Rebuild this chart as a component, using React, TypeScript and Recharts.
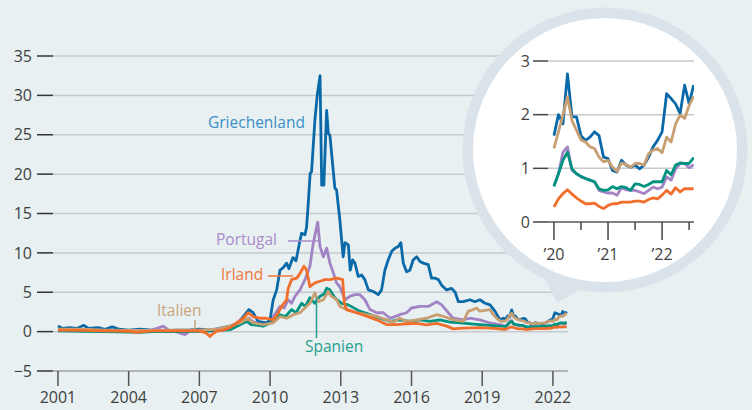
import React from 'react'
import { LineChart, Line, XAxis, YAxis, CartesianGrid } from 'recharts'

const FONT = '"Open Sans", "Noto Sans", sans-serif'
const BG = '#e8f0f2'
const RING = '#dbe3ea'
const GRID = '#c6cacd'

const COLORS = { gr: '#0a69a8', pt: '#a283c4', ie: '#f26e2c', it: '#c89f72', es: '#00937f' }
const LABELS = { gr: '#3b8fc7', pt: '#a98ccb', ie: '#f2783a', it: '#caa57c', es: '#26a08e' }

// monthly values Jan 2020 – Aug 2022 (inset)
const greece20 = [1.61, 2.0, 1.83, 2.76, 1.96, 1.96, 1.61, 1.52, 1.58, 1.68, 1.61, 1.21, 1.18, 0.96, 0.93, 1.15, 1.06, 1.02, 1.06, 0.99, 1.06, 1.21, 1.4, 1.52, 1.68, 2.39, 2.3, 2.2, 2.02, 2.55, 2.2, 2.55]
const italy20 = [1.37, 1.68, 1.99, 2.33, 1.89, 1.71, 1.53, 1.49, 1.4, 1.37, 1.21, 1.12, 1.15, 1.02, 0.94, 1.1, 1.07, 1.02, 1.09, 1.09, 1.06, 1.27, 1.34, 1.37, 1.29, 1.58, 1.49, 1.83, 1.99, 1.93, 2.17, 2.34]
const portugal20 = [0.68, 0.9, 1.3, 1.4, 0.96, 0.9, 0.84, 0.81, 0.78, 0.75, 0.59, 0.56, 0.54, 0.54, 0.5, 0.64, 0.6, 0.59, 0.59, 0.56, 0.53, 0.59, 0.65, 0.62, 0.65, 0.84, 0.78, 0.99, 1.09, 1.09, 1.01, 1.07]
const spain20 = [0.66, 0.9, 1.15, 1.3, 0.99, 0.9, 0.85, 0.81, 0.78, 0.75, 0.62, 0.59, 0.6, 0.66, 0.62, 0.66, 0.64, 0.59, 0.71, 0.7, 0.66, 0.7, 0.75, 0.75, 0.75, 0.96, 0.88, 1.06, 1.1, 1.09, 1.09, 1.2]
const ireland20 = [0.28, 0.43, 0.53, 0.6, 0.52, 0.45, 0.39, 0.34, 0.34, 0.35, 0.29, 0.25, 0.31, 0.34, 0.34, 0.37, 0.37, 0.37, 0.39, 0.39, 0.37, 0.42, 0.45, 0.43, 0.5, 0.59, 0.52, 0.64, 0.56, 0.62, 0.62, 0.62]

// [year, value] 2001 – 2019
const greeceHist = [
  [2001.0, 0.7], [2001.2, 0.4], [2001.5, 0.5], [2001.8, 0.4], [2002.1, 0.8], [2002.3, 0.4], [2002.7, 0.5],
  [2003.0, 0.3], [2003.3, 0.6], [2003.6, 0.3], [2004.0, 0.2], [2004.5, 0.3], [2005.0, 0.2], [2005.5, 0.1],
  [2006.0, 0.2], [2006.5, 0.2], [2007.0, 0.3], [2007.5, 0.2], [2008.0, 0.5], [2008.3, 0.7], [2008.6, 1.0],
  [2008.86, 1.9], [2009.1, 2.8], [2009.28, 2.4], [2009.49, 1.3], [2009.85, 1.1], [2010.0, 1.5], [2010.13, 4.0],
  [2010.28, 5.3], [2010.42, 7.8], [2010.55, 8.1], [2010.7, 8.7], [2010.8, 8.0], [2010.97, 9.4], [2011.1, 9.0],
  [2011.27, 11.6], [2011.34, 12.5], [2011.48, 12.3], [2011.55, 13.3], [2011.62, 16.3], [2011.7, 20.1],
  [2011.76, 20.3], [2011.9, 26.8], [2012.0, 30.0], [2012.12, 32.5], [2012.19, 18.6], [2012.28, 18.6],
  [2012.4, 28.1], [2012.47, 25.2], [2012.54, 24.9], [2012.75, 18.2], [2012.82, 18.0], [2012.96, 14.2],
  [2013.1, 9.5], [2013.18, 11.3], [2013.32, 11.0], [2013.4, 7.8], [2013.5, 9.1], [2013.6, 8.7], [2013.74, 7.0],
  [2013.88, 7.2], [2014.02, 6.6], [2014.17, 5.3], [2014.38, 5.1], [2014.59, 4.7], [2014.73, 5.3], [2014.87, 7.8],
  [2015.01, 9.1], [2015.16, 10.2], [2015.3, 10.6], [2015.44, 10.8], [2015.55, 11.3], [2015.65, 8.7],
  [2015.79, 7.6], [2015.93, 7.8], [2016.07, 9.1], [2016.22, 9.5], [2016.36, 8.9], [2016.5, 8.7], [2016.71, 8.5],
  [2016.85, 6.8], [2016.99, 6.8], [2017.14, 6.6], [2017.28, 5.9], [2017.49, 5.3], [2017.7, 5.5], [2017.85, 5.0],
  [2017.99, 3.8], [2018.2, 3.8], [2018.48, 4.05], [2018.69, 3.8], [2018.9, 4.05], [2019.12, 3.6], [2019.33, 3.4],
  [2019.54, 2.6], [2019.75, 1.5], [2019.9, 1.7],
]
const portugalHist = [
  [2001.0, 0.3], [2002.0, 0.2], [2003.0, 0.15], [2004.0, 0.1], [2005.0, 0.2], [2005.47, 0.7], [2005.7, 0.2],
  [2006.0, 0.0], [2006.39, -0.4], [2006.6, 0.1], [2007.0, 0.1], [2007.5, 0.15], [2008.0, 0.3], [2008.5, 0.6],
  [2008.9, 1.3], [2009.1, 1.7], [2009.3, 1.2], [2009.7, 1.0], [2010.0, 1.3], [2010.2, 2.2], [2010.42, 3.2],
  [2010.6, 3.0], [2010.77, 4.05], [2010.91, 3.6], [2011.06, 4.5], [2011.27, 5.3], [2011.48, 6.6], [2011.69, 8.3],
  [2011.83, 11.2], [2012.02, 13.9], [2012.12, 10.8], [2012.26, 9.5], [2012.4, 10.6], [2012.54, 8.7],
  [2012.69, 7.4], [2012.82, 6.2], [2012.96, 5.7], [2013.18, 4.05], [2013.4, 4.5], [2013.6, 4.7], [2013.8, 4.7],
  [2014.02, 4.05], [2014.24, 2.8], [2014.52, 2.4], [2014.8, 2.4], [2015.09, 1.7], [2015.3, 1.9], [2015.5, 2.15],
  [2015.79, 2.4], [2016.0, 3.0], [2016.36, 3.2], [2016.71, 3.2], [2017.07, 3.8], [2017.28, 3.4], [2017.56, 2.4],
  [2017.77, 1.7], [2018.2, 1.5], [2018.48, 1.7], [2018.9, 1.5], [2019.33, 1.1], [2019.75, 0.9],
]
const irelandHist = [
  [2001.0, 0.2], [2002.0, 0.15], [2003.0, 0.1], [2004.0, 0.05], [2004.3, -0.1], [2005.0, 0.1], [2006.0, 0.1],
  [2007.0, 0.1], [2007.3, -0.2], [2007.45, -0.6], [2007.6, -0.2], [2007.73, 0.05], [2008.0, 0.2], [2008.3, 0.5],
  [2008.86, 1.7], [2009.07, 2.4], [2009.28, 1.9], [2009.57, 1.7], [2009.85, 1.7], [2010.13, 1.5], [2010.35, 2.4],
  [2010.49, 3.2], [2010.7, 4.05], [2010.77, 5.5], [2010.91, 6.6], [2011.13, 6.8], [2011.27, 7.4], [2011.44, 8.3],
  [2011.55, 7.8], [2011.69, 5.7], [2011.9, 6.2], [2012.12, 6.4], [2012.33, 6.6], [2012.54, 6.6], [2012.82, 6.8],
  [2013.08, 6.6], [2013.15, 3.6], [2013.25, 2.8], [2013.67, 2.4], [2014.1, 1.95], [2014.52, 1.5], [2014.94, 0.9],
  [2015.37, 0.9], [2015.79, 1.0], [2016.22, 1.05], [2016.64, 0.85], [2017.07, 1.05], [2017.49, 0.7],
  [2017.77, 0.35], [2018.2, 0.45], [2018.9, 0.5], [2019.5, 0.4], [2019.9, 0.3],
]
const italyHist = [
  [2001.0, 0.3], [2002.0, 0.3], [2003.0, 0.2], [2004.0, 0.15], [2005.0, 0.15], [2006.0, 0.2], [2007.0, 0.2],
  [2007.7, 0.3], [2008.3, 0.7], [2008.72, 1.1], [2009.07, 1.7], [2009.28, 1.1], [2009.71, 0.9], [2010.13, 1.1],
  [2010.42, 1.9], [2010.7, 1.7], [2010.98, 2.15], [2011.27, 2.4], [2011.48, 3.0], [2011.69, 3.6], [2011.9, 4.9],
  [2012.05, 3.8], [2012.26, 4.05], [2012.47, 5.1], [2012.6, 4.5], [2012.82, 4.05], [2012.96, 3.2], [2013.25, 2.8],
  [2013.67, 2.4], [2014.1, 2.15], [2014.52, 1.95], [2014.94, 1.5], [2015.23, 1.2], [2015.5, 1.7], [2015.79, 1.3],
  [2016.22, 1.5], [2016.64, 1.7], [2017.07, 2.15], [2017.35, 1.95], [2017.77, 1.5], [2018.2, 1.3], [2018.41, 2.6],
  [2018.62, 2.8], [2018.76, 3.0], [2018.9, 2.6], [2019.33, 2.8], [2019.47, 2.15], [2019.68, 1.5], [2019.82, 1.3],
]
const spainHist = [
  [2001.0, 0.1], [2002.0, 0.05], [2003.0, 0.0], [2004.0, -0.05], [2004.5, -0.1], [2005.0, 0.0], [2006.0, 0.0],
  [2007.0, 0.05], [2007.7, 0.1], [2008.3, 0.25], [2009.0, 1.3], [2009.2, 0.9], [2009.71, 0.7], [2010.13, 1.3],
  [2010.42, 2.15], [2010.65, 1.9], [2010.91, 2.8], [2011.1, 2.4], [2011.34, 3.6], [2011.5, 3.2], [2011.69, 4.3],
  [2011.9, 3.6], [2012.12, 4.5], [2012.3, 4.8], [2012.4, 5.5], [2012.54, 5.3], [2012.75, 4.3], [2013.03, 3.6],
  [2013.32, 3.4], [2013.8, 2.6], [2014.24, 2.15], [2014.66, 1.7], [2015.09, 1.3], [2015.5, 1.5], [2015.93, 1.3],
  [2016.36, 1.5], [2016.78, 1.3], [2017.2, 1.5], [2017.63, 1.2], [2018.06, 1.1], [2018.9, 0.9], [2019.75, 0.7],
]

const yearTicks = [2001, 2004, 2007, 2010, 2013, 2016, 2019, 2022]
const valueTicks = [-5, 0, 5, 10, 15, 20, 25, 30, 35]
const insetValueTicks = [0, 1, 2, 3]
const insetYearTicks = [2020, 2020.5, 2021, 2021.5, 2022, 2022.5]

const monthT = greece20.map((_, i) => 2020 + i / 12)

const full = (hist: number[][], recent: number[]) =>
  [...hist.map(([t, v]) => ({ t, v })), ...recent.map((v, i) => ({ t: monthT[i], v }))]

const mainSeries = [
  { key: 'pt', data: full(portugalHist, portugal20) },
  { key: 'es', data: full(spainHist, spain20) },
  { key: 'gr', data: full(greeceHist, greece20) },
  { key: 'it', data: full(italyHist, italy20) },
  { key: 'ie', data: full(irelandHist, ireland20) },
]

const insetData = monthT.map((t, i) => ({
  t,
  gr: greece20[i],
  it: italy20[i],
  pt: portugal20[i],
  es: spain20[i],
  ie: ireland20[i],
}))

const tickText = { fill: '#3f3f3f', fontSize: 16, fontFamily: FONT }

const fmtValue = (v: number) => (v < 0 ? `\u2212${Math.abs(v)}` : `${v}`)

const InsetTick = (props: any) => {
  const x = Number(props.x)
  const y = Number(props.y)
  const v = Number(props.payload?.value)
  const major = Math.abs(v - Math.round(v)) < 0.01
  return (
    <g>
      <line x1={x} x2={x} y1={y} y2={y + (major ? 18 : 8)} stroke="#444" strokeWidth={1.5} />
      {major && (
        <text x={x} y={y + 38} textAnchor="middle" fill="#3f3f3f" fontSize={16} fontFamily={FONT}>
          {`\u2019${String(Math.round(v)).slice(2)}`}
        </text>
      )}
    </g>
  )
}

export default function App() {
  return (
    <div style={{ position: 'relative', width: 752, height: 410, background: BG, overflow: 'hidden', fontFamily: FONT }}>
      <style>{'body{margin:0}'}</style>
      <LineChart width={752} height={410} margin={{ top: 56, right: 184, bottom: 0, left: 0 }}>
        <CartesianGrid vertical={false} stroke={GRID} strokeWidth={1.5} />
        <XAxis
          type="number"
          dataKey="t"
          domain={[2000.79, 2022.64]}
          ticks={yearTicks}
          allowDataOverflow
          height={39}
          tickSize={15}
          tickMargin={6}
          axisLine={{ stroke: '#a9adb0', strokeWidth: 1.5 }}
          tickLine={{ stroke: '#555', strokeWidth: 1.5 }}
          tick={tickText}
        />
        <YAxis
          type="number"
          domain={[-5, 35]}
          ticks={valueTicks}
          width={53}
          tickSize={16}
          tickMargin={5}
          axisLine={false}
          tickLine={{ stroke: '#333', strokeWidth: 1.5 }}
          tick={tickText}
          tickFormatter={fmtValue}
        />
        {mainSeries.map((s) => (
          <Line
            key={s.key}
            data={s.data}
            dataKey="v"
            type="linear"
            stroke={COLORS[s.key as keyof typeof COLORS]}
            strokeWidth={2.8}
            strokeLinejoin="round"
            dot={false}
            isAnimationActive={false}
          />
        ))}
      </LineChart>

      {/* series labels and speech bubble */}
      <svg width={752} height={410} style={{ position: 'absolute', left: 0, top: 0 }}>
        <g fontFamily={FONT} fontSize={15.5}>
          <text x={208} y={128} fill={LABELS.gr}>Griechenland</text>
          <text x={216} y={245} fill={LABELS.pt}>Portugal</text>
          <line x1={288} x2={318} y1={241} y2={241} stroke={LABELS.pt} strokeWidth={1.5} />
          <text x={221} y={280} fill={LABELS.ie}>Irland</text>
          <line x1={268} x2={293} y1={276} y2={276} stroke={LABELS.ie} strokeWidth={1.5} />
          <text x={157} y={316} fill={LABELS.it}>Italien</text>
          <line x1={195} x2={195} y1={320} y2={329} stroke={LABELS.it} strokeWidth={1.5} />
          <text x={305} y={352} fill={LABELS.es}>Spanien</text>
          <line x1={316.5} x2={316.5} y1={297} y2={338} stroke={LABELS.es} strokeWidth={1.5} />
        </g>
        <circle cx={605} cy={150} r={142.5} fill={RING} />
        <polygon points="538,265 557,303 590,284" fill={RING} />
        <circle cx={605} cy={150} r={132} fill="#ffffff" />
      </svg>

      <div style={{ position: 'absolute', left: 470, top: 0 }}>
        <LineChart width={282} height={300} data={insetData} margin={{ top: 61, right: 58, bottom: 38, left: 0 }}>
          <CartesianGrid vertical={false} stroke={GRID} strokeWidth={1.5} />
          <XAxis
            type="number"
            dataKey="t"
            domain={[2019.89, 2022.59]}
            ticks={insetYearTicks}
            interval={0}
            allowDataOverflow
            height={40}
            tickSize={0}
            tickMargin={0}
            axisLine={{ stroke: '#666', strokeWidth: 1.5 }}
            tickLine={false}
            tick={InsetTick}
          />
          <YAxis
            type="number"
            domain={[0, 3]}
            ticks={insetValueTicks}
            width={78}
            tickSize={15}
            tickMargin={3}
            axisLine={false}
            tickLine={{ stroke: '#444', strokeWidth: 1.5 }}
            tick={tickText}
          />
          {['pt', 'es', 'gr', 'it', 'ie'].map((k) => (
            <Line
              key={k}
              dataKey={k}
              type="linear"
              stroke={COLORS[k as keyof typeof COLORS]}
              strokeWidth={2.8}
              strokeLinejoin="round"
              dot={false}
              isAnimationActive={false}
            />
          ))}
        </LineChart>
      </div>
    </div>
  )
}
